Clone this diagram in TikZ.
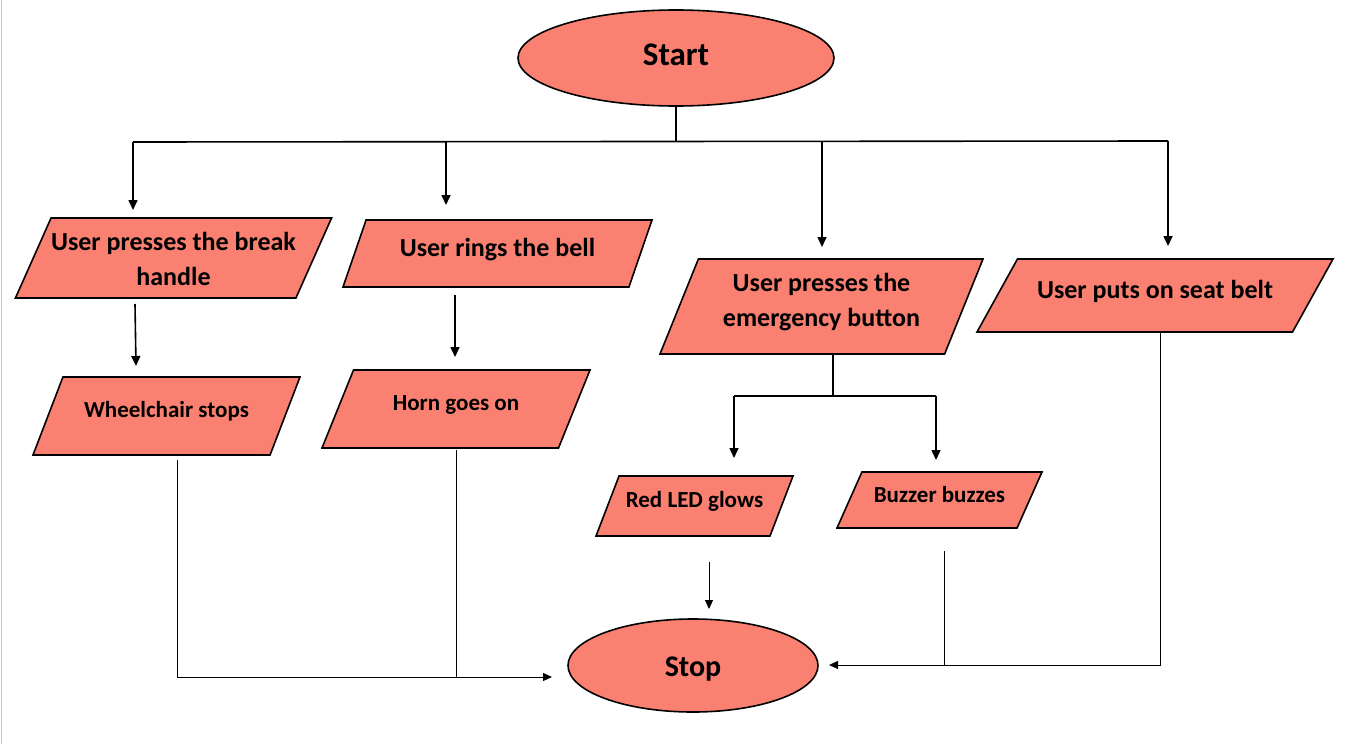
\documentclass[tikz,border=0pt]{standalone}
\usepackage{fontspec}
\setmainfont{Carlito}
\usetikzlibrary{shapes.geometric,arrows.meta}
\definecolor{boxred}{RGB}{250,128,114}
\tikzset{
  term/.style={ellipse,draw,fill=boxred,line width=1.6pt,inner sep=0pt,font=\bfseries\fontsize{30}{36}\selectfont},
  io/.style={trapezium,trapezium stretches body=true,draw,fill=boxred,line width=1.6pt,inner xsep=0pt,align=center,text height=18pt,text depth=13pt,font=\bfseries\fontsize{26}{35}\selectfont},
  smallio/.style={io,text height=16pt,font=\bfseries\fontsize{23}{28}\selectfont},
  line/.style={line width=1.6pt},
  flow/.style={line width=1.6pt,-{Triangle[length=10pt,width=9pt]}},
  back/.style={line width=.9pt},
  backflow/.style={line width=.9pt,-{Triangle[length=9pt,width=8pt]}}
}
\begin{document}
\begin{tikzpicture}[x=1pt,y=-1pt]
\useasboundingbox (0,0) rectangle (1352,744);
\draw[black!22,line width=1.5pt] (1.5,0) -- (1.5,744);

\node[term,text depth=7pt,font=\bfseries\fontsize{33}{40}\selectfont,minimum width=316pt,minimum height=96pt] (start) at (676,58) {Start};
\node[term,text height=26pt,minimum width=250pt,minimum height=93pt] (stop) at (693,665.5) {Stop};

\node[io,text height=58pt,text depth=4pt,inner ysep=9pt,minimum width=307pt,trapezium left angle=66,trapezium right angle=114] (brake) at (173.5,258) {User presses the break\\handle};
\node[io,inner ysep=18pt,minimum width=309pt,trapezium left angle=71,trapezium right angle=109] (bell) at (497.5,253.5) {User rings the bell};
\node[io,text height=43pt,text depth=4pt,inner ysep=24pt,minimum width=323pt,trapezium left angle=68,trapezium right angle=112] (emerg) at (821.5,306.5) {User presses the\\emergency button};
\node[io,inner ysep=21pt,minimum width=356pt,trapezium left angle=61,trapezium right angle=119] (belt) at (1155,295.5) {User puts on seat belt};

\node[smallio,inner ysep=24.5pt,minimum width=267pt,trapezium left angle=69,trapezium right angle=111] (wheel) at (166.5,416) {Wheelchair stops};
\node[smallio,inner ysep=24.5pt,minimum width=268pt,trapezium left angle=68,trapezium right angle=112] (horn) at (456,409) {Horn goes on};
\node[smallio,inner ysep=15.5pt,minimum width=197pt,trapezium left angle=69,trapezium right angle=111] (led) at (694.5,506) {Red LED glows};
\node[smallio,text depth=11pt,inner ysep=14.5pt,minimum width=205pt,trapezium left angle=66,trapezium right angle=114] (buzz) at (939.5,500) {Buzzer buzzes};

\coordinate (fork) at (676,141);
\coordinate (forkL) at (133,142);
\coordinate (forkR) at (1168,141);
\coordinate (inBrake) at (133,210);
\coordinate (inBell) at (446,205);
\coordinate (inEmerg) at (822,247);
\coordinate (inBelt) at (1168,246);
\coordinate (outBrake) at (135,304);
\coordinate (inWheel) at (136,366);
\coordinate (outBell) at (455,295);
\coordinate (inHorn) at (455,357);
\coordinate (split) at (833,396);
\coordinate (splitL) at (734,396);
\coordinate (splitR) at (936,396);
\coordinate (inLed) at (734,458);
\coordinate (inBuzz) at (936,460);
\coordinate (outLed) at (709,562);
\coordinate (inStop) at (709,609);
\coordinate (outWheel) at (177,460);
\coordinate (outHorn) at (456,450);
\coordinate (inStopL) at (552,677);
\coordinate (outBuzz) at (944,551);
\coordinate (outBelt) at (1160,333);
\coordinate (inStopR) at (829,665);

\draw[line] (start) -- (fork);
\draw[line] (forkL) -- (forkR);
\draw[flow] (forkL) -- (inBrake);
\draw[flow] (inBell |- fork) -- (inBell);
\draw[flow] (inEmerg |- fork) -- (inEmerg);
\draw[flow] (forkR) -- (inBelt);

\draw[flow] (outBrake) -- (inWheel);
\draw[flow] (outBell) -- (inHorn);

\draw[line] (split |- emerg.south) -- (split);
\draw[line] (splitL) -- (splitR);
\draw[flow] (splitL) -- (inLed);
\draw[flow] (splitR) -- (inBuzz);

\draw[backflow] (outLed) -- (inStop);
\draw[backflow] (outWheel) |- (inStopL);
\draw[back] (outHorn) -- (outHorn |- inStopL);
\draw[backflow] (outBelt) |- (inStopR);
\draw[back] (outBuzz) -- (outBuzz |- inStopR);
\end{tikzpicture}
\end{document}
